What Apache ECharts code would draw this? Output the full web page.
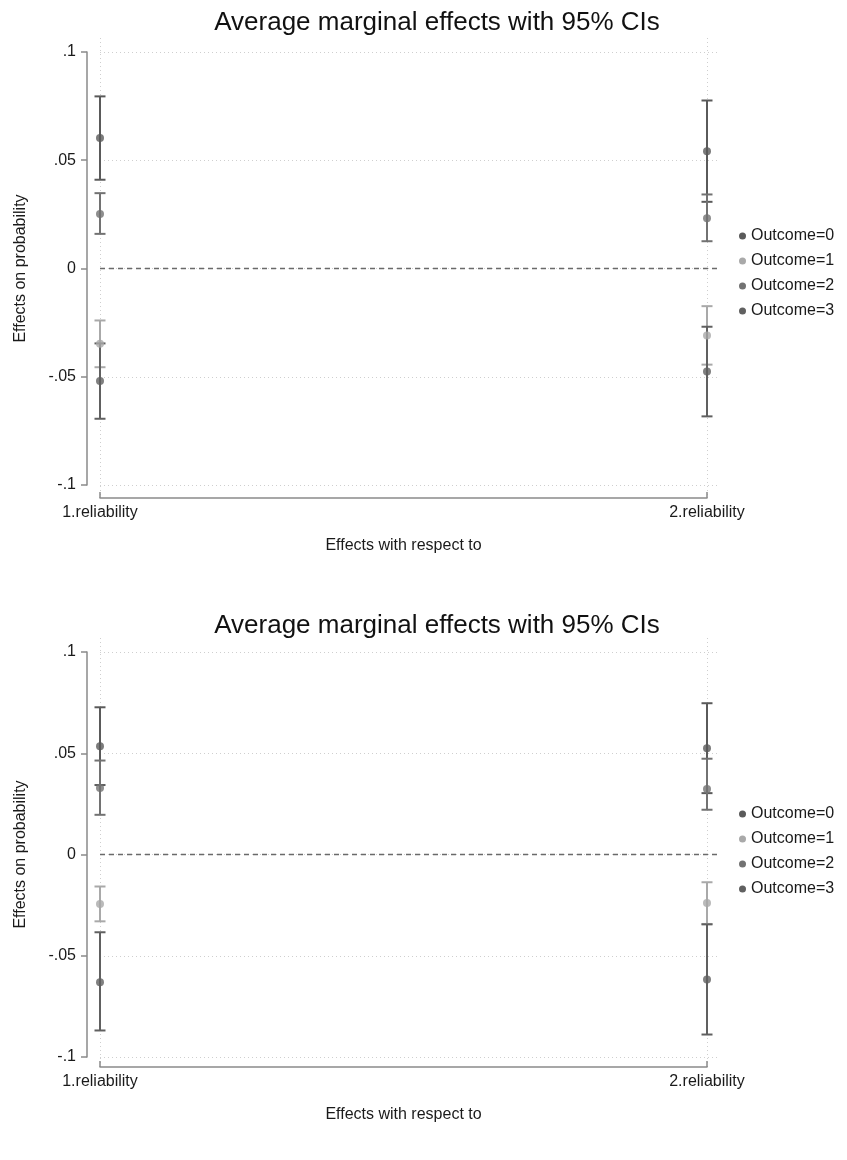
<!DOCTYPE html>
<html>
<head>
<meta charset="utf-8">
<script src="https://cdn.jsdelivr.net/npm/echarts@6/dist/echarts.min.js"></script>
<style>
html,body{margin:0;padding:0;background:#fff;}
#c{width:847px;height:1160px;}
</style>
</head>
<body>
<div id="c"></div>
<script>
// ---------- data ----------
const categories = ['1.reliability', '2.reliability'];
const outcomes = ['Outcome=0', 'Outcome=1', 'Outcome=2', 'Outcome=3'];
const titleText = 'Average marginal effects with 95% CIs';
const yName = 'Effects on probability';
const xName = 'Effects with respect to';

// Top panel: estimates, lower and upper CI bounds [at 1.reliability, at 2.reliability]
const topEst0 = [0.0603, 0.0542];
const topEst1 = [-0.0348, -0.0309];
const topEst2 = [0.0252, 0.0232];
const topEst3 = [-0.0520, -0.0476];
const topLo0 = [0.0410, 0.0308];
const topLo1 = [-0.0456, -0.0444];
const topLo2 = [0.0160, 0.0126];
const topLo3 = [-0.0694, -0.0683];
const topHi0 = [0.0795, 0.0776];
const topHi1 = [-0.0240, -0.0174];
const topHi2 = [0.0348, 0.0342];
const topHi3 = [-0.0346, -0.0269];

// Bottom panel
const botEst0 = [0.0535, 0.0525];
const botEst1 = [-0.0244, -0.0240];
const botEst2 = [0.0329, 0.0324];
const botEst3 = [-0.0631, -0.0617];
const botLo0 = [0.0343, 0.0303];
const botLo1 = [-0.0330, -0.0343];
const botLo2 = [0.0196, 0.0221];
const botLo3 = [-0.0869, -0.0889];
const botHi0 = [0.0727, 0.0747];
const botHi1 = [-0.0158, -0.0137];
const botHi2 = [0.0464, 0.0473];
const botHi3 = [-0.0384, -0.0345];

// ---------- styling ----------
const colors = ['#5a5a5a', '#a9a9a9', '#727272', '#606060'];
const FONT = 'Liberation Sans, Arial, Helvetica, sans-serif';
const axisGray = '#8a8a8a';
const gridGray = '#cfcfcf';

function fmtY(v) {
  const s = String(+v.toFixed(2));
  return s.replace(/^(-?)0\./, '$1.');
}

const panels = [
  { est: [topEst0, topEst1, topEst2, topEst3], lo: [topLo0, topLo1, topLo2, topLo3], hi: [topHi0, topHi1, topHi2, topHi3],
    titleTop: 5, yTop: 52, yH: 433, plotTop: 38, plotH: 460, xOffset: 13, legendTop: 223 },
  { est: [botEst0, botEst1, botEst2, botEst3], lo: [botLo0, botLo1, botLo2, botLo3], hi: [botHi0, botHi1, botHi2, botHi3],
    titleTop: 608, yTop: 652, yH: 405, plotTop: 638, plotH: 429, xOffset: 10, legendTop: 801 }
];

const X_LEFT = 100, X_W = 607, X_W_WIDE = 620;

const option = {
  animation: false,
  backgroundColor: '#ffffff',
  textStyle: { fontFamily: FONT },
  color: colors,
  title: [], legend: [], grid: [], xAxis: [], yAxis: [], series: []
};

panels.forEach((p, pi) => {
  const gA = pi * 3, gB = pi * 3 + 1, gC = pi * 3 + 2;
  option.title.push({
    text: titleText, left: 432, top: p.titleTop, textAlign: 'center',
    textStyle: { fontFamily: FONT, fontSize: 26, fontWeight: 'normal', color: '#111' }
  });
  option.legend.push({
    data: outcomes.map(n => ({ name: n, icon: 'circle' })),
    orient: 'vertical', left: 734, top: p.legendTop,
    itemWidth: 7, itemHeight: 7, itemGap: 9,
    textStyle: { fontFamily: FONT, fontSize: 16, color: '#1a1a1a' }
  });
  // grid A: y axis + horizontal grid lines + zero line
  option.grid.push({ left: X_LEFT, top: p.yTop, width: X_W_WIDE, height: p.yH, containLabel: false });
  // grid B: vertical grid lines
  option.grid.push({ left: X_LEFT, top: p.plotTop, width: X_W, height: p.plotH, containLabel: false });
  // grid C: data + x axis
  option.grid.push({ left: X_LEFT, top: p.yTop, width: X_W, height: p.yH, containLabel: false });

  // axes for grid A
  option.xAxis.push({ gridIndex: gA, type: 'value', min: 0, max: 1, show: false, axisLine: { onZero: false } });
  option.yAxis.push({
    gridIndex: gA, type: 'value', min: -0.1, max: 0.1, interval: 0.05, offset: 13, position: 'left',
    name: yName, nameLocation: 'middle', nameGap: 58, nameRotate: 90,
    nameTextStyle: { fontFamily: FONT, fontSize: 16, color: '#1a1a1a' },
    axisLine: { show: true, onZero: false, lineStyle: { color: axisGray, width: 1.5 } },
    axisTick: { show: true, inside: false, length: 6, lineStyle: { color: axisGray, width: 1.5 } },
    axisLabel: { margin: 11, fontFamily: FONT, fontSize: 16, color: '#1a1a1a', formatter: fmtY },
    splitLine: { show: true, lineStyle: { color: gridGray, type: [1, 3], width: 1 } }
  });
  // axes for grid B
  option.xAxis.push({
    gridIndex: gB, type: 'value', min: 1, max: 2, interval: 1,
    axisLine: { show: false, onZero: false }, axisTick: { show: false }, axisLabel: { show: false },
    splitLine: { show: true, lineStyle: { color: gridGray, type: [1, 3], width: 1 } }
  });
  option.yAxis.push({ gridIndex: gB, type: 'value', min: 0, max: 1, show: false, axisLine: { onZero: false }, splitLine: { show: false } });
  // axes for grid C
  option.xAxis.push({
    gridIndex: gC, type: 'value', min: 1, max: 2, interval: 1, offset: p.xOffset, position: 'bottom',
    name: xName, nameLocation: 'middle', nameGap: 40,
    nameTextStyle: { fontFamily: FONT, fontSize: 16, color: '#1a1a1a' },
    axisLine: { show: true, onZero: false, lineStyle: { color: axisGray, width: 1.5 } },
    axisTick: { show: true, inside: true, length: 6, lineStyle: { color: axisGray, width: 1.5 } },
    axisLabel: { margin: 7, fontFamily: FONT, fontSize: 16, color: '#1a1a1a',
      formatter: v => categories[Math.round(v) - 1] || '' },
    splitLine: { show: false }
  });
  option.yAxis.push({ gridIndex: gC, type: 'value', min: -0.1, max: 0.1, show: false, axisLine: { onZero: false }, splitLine: { show: false } });

  // zero line
  option.series.push({
    type: 'line', xAxisIndex: gA, yAxisIndex: gA, data: [], silent: true,
    markLine: {
      silent: true, symbol: ['none', 'none'], label: { show: false },
      lineStyle: { color: '#6a6a6a', type: [5, 4], width: 1.3 },
      data: [{ yAxis: 0 }]
    }
  });

  // error bars then points
  outcomes.forEach((name, k) => {
    const col = colors[k];
    const ciData = categories.map((c, i) => [i + 1, p.lo[k][i], p.hi[k][i]]);
    option.series.push({
      type: 'custom', name: name, xAxisIndex: gC, yAxisIndex: gC, z: 3,
      encode: { x: 0, y: [1, 2] }, clip: false,
      itemStyle: { color: col },
      data: ciData,
      renderItem: (params, api) => {
        const x = api.value(0);
        const a = api.coord([x, api.value(2)]);
        const b = api.coord([x, api.value(1)]);
        const w = 5.5;
        const st = { stroke: col, lineWidth: 2 };
        return {
          type: 'group', children: [
            { type: 'line', shape: { x1: a[0], y1: a[1], x2: b[0], y2: b[1] }, style: st },
            { type: 'line', shape: { x1: a[0] - w, y1: a[1], x2: a[0] + w, y2: a[1] }, style: st },
            { type: 'line', shape: { x1: b[0] - w, y1: b[1], x2: b[0] + w, y2: b[1] }, style: st }
          ]
        };
      }
    });
  });
  outcomes.forEach((name, k) => {
    option.series.push({
      type: 'scatter', name: name, xAxisIndex: gC, yAxisIndex: gC, z: 4,
      symbol: 'circle', symbolSize: 8,
      itemStyle: { color: colors[k] },
      data: categories.map((c, i) => [i + 1, p.est[k][i]])
    });
  });
});

const chart = echarts.init(document.getElementById('c'), null, { renderer: 'canvas' });
chart.setOption(option);
</script>
</body>
</html>
